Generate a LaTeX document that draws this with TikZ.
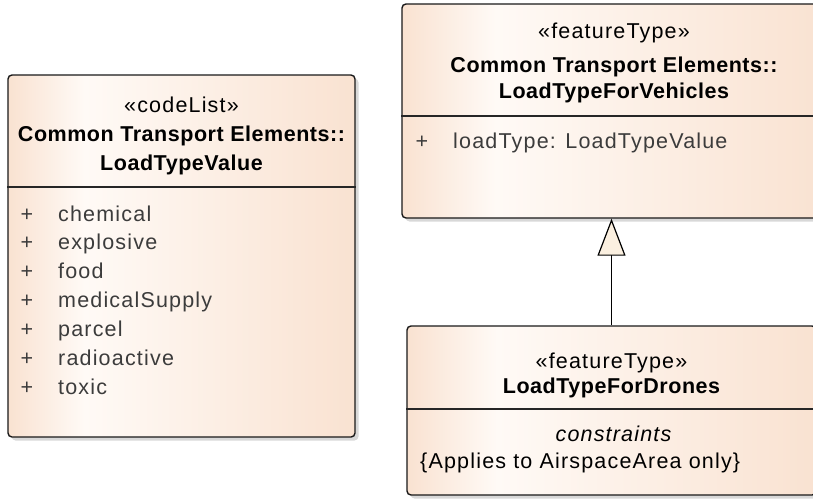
\documentclass[tikz,border=0pt]{standalone}
\usepackage{fontspec}
\setmainfont{Liberation Sans}[LetterSpace=5.5,BoldFeatures={LetterSpace=2.5}]
\usetikzlibrary{arrows.meta,shadows}
\definecolor{eapeach}{HTML}{F9E2D1}
\definecolor{eawhite}{HTML}{FFFAF6}
\definecolor{eashadow}{HTML}{D8D8D8}
\definecolor{eacream}{HTML}{FBF0E0}
\definecolor{eagray}{HTML}{3C3C3C}
\pgfdeclarehorizontalshading{eashade}{100bp}{color(0bp)=(eapeach); color(25bp)=(eapeach);
  color(36bp)=(eawhite); color(75bp)=(eapeach); color(100bp)=(eapeach)}
\tikzset{
  % klassrutor
  cls/.style={rectangle,rounded corners=4pt,draw=black!90,line width=1.4pt,
              shade,shading=eashade,inner sep=0pt,
              drop shadow={shadow xshift=3.5pt,shadow yshift=-3.5pt,fill=eashadow,opacity=1}},
  sep/.style={draw=black!85,line width=1.2pt},
  txt/.style={inner sep=0pt,font=\fontsize{21.5}{26}\selectfont},
  stereo/.style={txt,anchor=base,text=black},
  title/.style={txt,anchor=base,text=black,font=\fontsize{21.5}{26}\selectfont\bfseries},
  attr/.style={txt,anchor=base west,text=eagray},
  vis/.style={txt,anchor=base,text=eagray},
  % relationer
  gen/.style={-{Triangle[length=37pt,width=28pt,fill=eacream]},draw=black,line width=1.2pt},
}

\begin{document}
\begin{tikzpicture}[x=1pt,y=-1pt]
  \clip (0,0) rectangle (813,501);
  % kodlista
  \node[cls,minimum width=347pt,minimum height=362pt] (lv) at (181.5,256) {};
  \draw[sep] (lv.west |- 0,187) -- (lv.east |- 0,187);
  \node[stereo] (lvst) at (181.5,112) {«codeList»};
  \node[title] (lvt1) at (181.5,141) {Common Transport Elements::};
  \node[title] (lvt2) at (181.5,170) {LoadTypeValue};
  \foreach \val [count=\i] in {chemical,explosive,food,medicalSupply,parcel,radioactive,toxic}{
    \node[vis] (lvp\i) at (27,{221+28.9*(\i-1)}) {+};
    \node[attr] (lva\i) at (58,{221+28.9*(\i-1)}) {\val};
  }
  % fordon
  \node[cls,minimum width=424pt,minimum height=214pt] (veh) at (614,111) {};
  \draw[sep] (veh.west |- 0,116) -- (veh.east |- 0,116);
  \node[stereo] (vehst) at (614,38) {«featureType»};
  \node[title] (veht1) at (614,72) {Common Transport Elements::};
  \node[title] (veht2) at (614,98) {LoadTypeForVehicles};
  \node[vis] (vehp) at (422,148) {+};
  \node[attr] (veha) at (453,148) {loadType: LoadTypeValue};
  % drönare
  \node[cls,minimum width=409pt,minimum height=169pt] (dr) at (611.5,410.5) {};
  \draw[sep] (dr.west |- 0,409) -- (dr.east |- 0,409);
  \node[stereo] (drst) at (611.5,368) {«featureType»};
  \node[title] (drt) at (611.5,393) {LoadTypeForDrones};
  \node[stereo,font=\fontsize{21.5}{26}\selectfont\itshape] (drc) at (613.5,441) {constraints};
  \node[attr,text=black] (drcc) at (420,468) {\{Applies to AirspaceArea only\}};
  \draw[gen] (dr.north) -- (dr.north |- veh.south);
\end{tikzpicture}
\end{document}
